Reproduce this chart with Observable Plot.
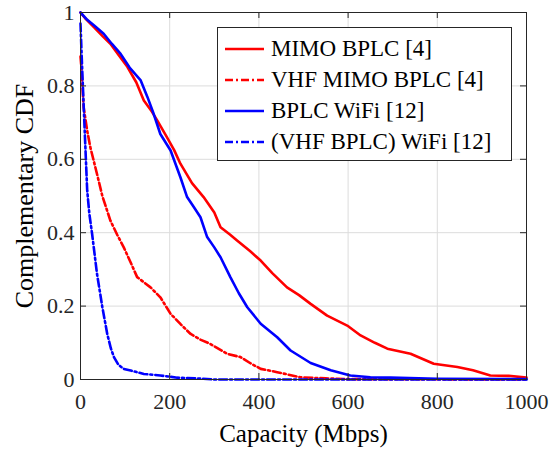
<!DOCTYPE html>
<html>
<head>
<meta charset="utf-8">
<script src="https://cdn.jsdelivr.net/npm/d3@7"></script>
<script src="https://cdn.jsdelivr.net/npm/@observablehq/plot@0.6"></script>
<style>
  html, body { margin: 0; padding: 0; background: #fff; }
  #wrap, #wrap * { font-family: "Liberation Serif", serif; }
  #wrap { position: relative; width: 552px; height: 460px; }
  #legend { position: absolute; left: 217px; top: 27px; width: 295px; height: 134px; border: 1px solid #262626; background: #fff; box-sizing: border-box; padding: 5px 0 0 7px; }
  .item { display: flex; align-items: center; height: 31px; font-size: 23px; color: #000; white-space: nowrap; }
  .item svg { margin-right: 7px; flex: none; }
</style>
</head>
<body>
<div id="wrap"><div id="chart"></div><div id="legend"></div></div>
<script>
const seriesNames = ["MIMO BPLC [4]", "VHF MIMO BPLC [4]", "BPLC WiFi [12]", "(VHF BPLC) WiFi [12]"];
const seriesColors = ["#ff0000", "#ff0000", "#0000ff", "#0000ff"];
const seriesDash = [null, "8,3,2,3", null, "8,3,2,3"];

const mimoX = [0, 10, 30, 50, 67, 85, 105, 125, 142, 160, 172, 194, 210, 224, 250, 276, 300, 314, 335, 351, 380, 404, 430, 463, 490, 516, 553, 598, 628, 660, 688, 740, 792, 845, 880, 919, 960, 1000];
const mimoY = [1, 0.985, 0.96, 0.935, 0.915, 0.885, 0.852, 0.81, 0.76, 0.73, 0.706, 0.66, 0.625, 0.588, 0.535, 0.497, 0.455, 0.415, 0.395, 0.379, 0.35, 0.324, 0.29, 0.251, 0.23, 0.206, 0.174, 0.147, 0.12, 0.1, 0.084, 0.07, 0.043, 0.034, 0.025, 0.011, 0.01, 0.005];

const vhfX = [0, 2, 4, 7, 15, 22, 37, 49, 67, 82, 97, 112, 127, 157, 179, 202, 225, 247, 270, 291, 329, 359, 380, 404, 441, 493, 550, 600, 1000];
const vhfY = [0.88, 0.85, 0.805, 0.742, 0.678, 0.633, 0.56, 0.5, 0.433, 0.395, 0.36, 0.32, 0.279, 0.251, 0.224, 0.179, 0.15, 0.124, 0.108, 0.097, 0.07, 0.061, 0.045, 0.029, 0.02, 0.006, 0.003, 0.001, 0];

const wifiX = [0, 15, 30, 52, 70, 90, 110, 135, 150, 164, 179, 202, 224, 239, 254, 269, 284, 300, 314, 336, 355, 374, 404, 441, 471, 516, 561, 605, 650, 695, 800, 1000];
const wifiY = [1, 0.98, 0.965, 0.942, 0.915, 0.887, 0.85, 0.815, 0.77, 0.724, 0.669, 0.624, 0.551, 0.497, 0.47, 0.442, 0.388, 0.36, 0.333, 0.279, 0.235, 0.197, 0.152, 0.115, 0.079, 0.045, 0.025, 0.011, 0.006, 0.005, 0.002, 0.001];

const vwX = [0, 3, 6, 10, 15, 20, 26, 37, 49, 60, 68, 75, 85, 97, 120, 142, 179, 217, 260, 300, 1000];
const vwY = [0.97, 0.87, 0.78, 0.66, 0.515, 0.45, 0.397, 0.288, 0.197, 0.124, 0.085, 0.061, 0.04, 0.029, 0.022, 0.015, 0.011, 0.005, 0.003, 0, 0];

const xTicks = [0, 200, 400, 600, 800, 1000];
const yTicks = [0, 0.2, 0.4, 0.6, 0.8, 1];

const xs = [mimoX, vhfX, wifiX, vwX];
const ys = [mimoY, vhfY, wifiY, vwY];
const series = xs.map((X, i) => X.map((x, j) => ({x, y: ys[i][j]})));

const W = 552, H = 460, mL = 80, mR = 26, mT = 12, mB = 81;
const innerW = W - mL - mR, innerH = H - mT - mB;
const tickLen = 6;
const axisColor = "#262626";

const lineMarks = series.map((d, i) => Plot.line(d, {
  x: "x", y: "y", stroke: seriesColors[i], strokeWidth: 2.6,
  strokeDasharray: seriesDash[i] || undefined, strokeLinejoin: "round"
}));

const chart = Plot.plot({
  width: W, height: H,
  marginLeft: mL, marginRight: mR, marginTop: mT, marginBottom: mB,
  style: {fontFamily: "Liberation Serif", fontSize: "22px", color: axisColor, background: "#fff"},
  x: {domain: [0, 1000]},
  y: {domain: [0, 1]},
  marks: [
    Plot.gridX(xTicks, {stroke: "#dcdcdc", strokeOpacity: 1, strokeWidth: 1}),
    Plot.gridY(yTicks, {stroke: "#dcdcdc", strokeOpacity: 1, strokeWidth: 1}),
    ...lineMarks,
    Plot.tickX(xTicks, {x: d => d, insetTop: innerH - tickLen, stroke: axisColor}),
    Plot.tickX(xTicks, {x: d => d, insetBottom: innerH - tickLen, stroke: axisColor}),
    Plot.tickY(yTicks, {y: d => d, insetRight: innerW - tickLen, stroke: axisColor}),
    Plot.tickY(yTicks, {y: d => d, insetLeft: innerW - tickLen, stroke: axisColor}),
    Plot.frame({stroke: axisColor, strokeWidth: 1}),
    Plot.axisX(xTicks, {tickSize: 0, tickPadding: 14, fontSize: 22, fill: axisColor,
      tickFormat: d => String(d),
      label: "Capacity (Mbps)", labelAnchor: "center", labelArrow: "none", labelOffset: 62}),
    Plot.axisY(yTicks, {tickSize: 0, tickPadding: 6, fontSize: 22, fill: axisColor,
      tickFormat: d => String(+d.toFixed(1)),
      label: "Complementary CDF", labelAnchor: "center", labelArrow: "none", labelOffset: 66})
  ]
});
chart.querySelectorAll("g[aria-label='x-axis label'] text").forEach(t => {
  t.style.fontSize = "25px"; t.setAttribute("fill", "#000");
});
chart.querySelectorAll("g[aria-label='y-axis label'] text").forEach(t => {
  t.style.fontSize = "26px"; t.setAttribute("fill", "#000");
});
document.getElementById("chart").appendChild(chart);

const legend = document.getElementById("legend");
seriesNames.forEach((name, i) => {
  const item = document.createElement("div");
  item.className = "item";
  item.innerHTML = `<svg width="39" height="6"><line x1="0" y1="3" x2="39" y2="3" stroke="${seriesColors[i]}" stroke-width="2.6" ${seriesDash[i] ? `stroke-dasharray="${seriesDash[i]}"` : ""}/></svg><span>${name}</span>`;
  legend.appendChild(item);
});
</script>
</body>
</html>
